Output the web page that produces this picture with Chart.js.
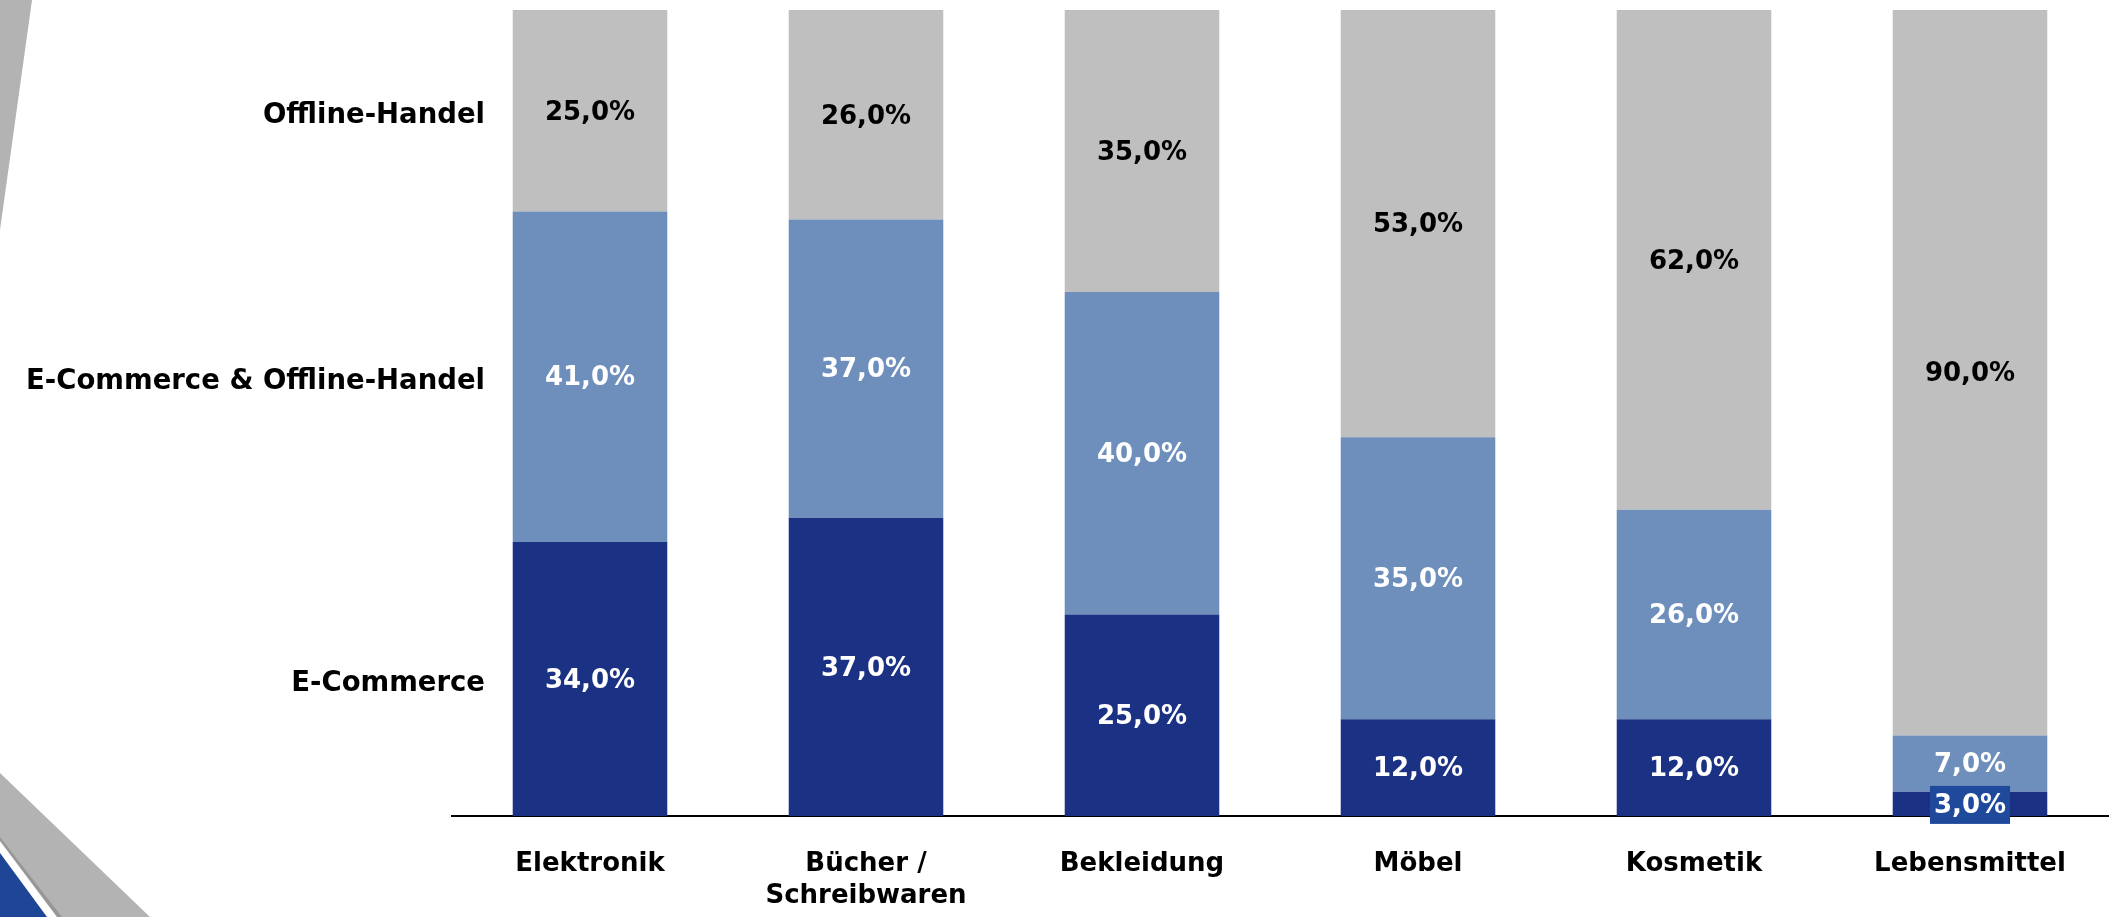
<!DOCTYPE html>
<html>
<head>
<meta charset="utf-8">
<script src="https://cdn.jsdelivr.net/npm/chart.js@4/dist/chart.umd.min.js"></script>
<style>
  html, body { margin: 0; padding: 0; background: #fff; overflow: hidden; }
  canvas { display: block; }
</style>
</head>
<body>
<canvas id="c" width="2116" height="917"></canvas>
<script>
// Kaufkanal je Warengruppe (Anteile in %)
const categories = ['Elektronik', ['Bücher /', 'Schreibwaren'], 'Bekleidung', 'Möbel', 'Kosmetik', 'Lebensmittel'];
const seriesNames = ['E-Commerce', 'E-Commerce & Offline-Handel', 'Offline-Handel'];
const eCommerce = [34, 37, 25, 12, 12, 3];
const beides    = [41, 37, 40, 35, 26, 7];
const offline   = [25, 26, 35, 53, 62, 90];

const FONT = 'DejaVu Sans';
const NAVY = '#1b3183';
const MID = '#6e8fbb';
const GREY = '#bfbfbf';

function fmt(v) {
  return v.toFixed(1).replace('.', ',') + '%';
}

// Eckdekoration der Folie
const decoration = {
  id: 'decoration',
  beforeDraw(chart) {
    const ctx = chart.ctx;
    const H = chart.height;
    ctx.save();
    ctx.fillStyle = '#b3b3b3';
    ctx.beginPath();
    ctx.moveTo(0, 0); ctx.lineTo(32, 0); ctx.lineTo(0, 230); ctx.closePath();
    ctx.fill();
    ctx.beginPath();
    ctx.moveTo(0, 773); ctx.lineTo(150, H); ctx.lineTo(0, H); ctx.closePath();
    ctx.fill();
    ctx.fillStyle = '#979797';
    ctx.beginPath();
    ctx.moveTo(0, 837); ctx.lineTo(62, H); ctx.lineTo(0, H); ctx.closePath();
    ctx.fill();
    ctx.fillStyle = '#ffffff';
    ctx.beginPath();
    ctx.moveTo(0, 841); ctx.lineTo(57, H); ctx.lineTo(0, H); ctx.closePath();
    ctx.fill();
    ctx.fillStyle = '#1f4597';
    ctx.beginPath();
    ctx.moveTo(0, 853); ctx.lineTo(47, H); ctx.lineTo(0, H); ctx.closePath();
    ctx.fill();
    ctx.restore();
  }
};

// Werte mittig in den Segmenten
const valueLabels = {
  id: 'valueLabels',
  afterDatasetsDraw(chart) {
    const ctx = chart.ctx;
    ctx.save();
    ctx.font = 'bold 26px "' + FONT + '"';
    ctx.textAlign = 'center';
    ctx.textBaseline = 'middle';
    chart.data.datasets.forEach((ds, i) => {
      const meta = chart.getDatasetMeta(i);
      meta.data.forEach((bar, j) => {
        const v = ds.data[j];
        const y = (bar.y + bar.base) / 2;
        const txt = fmt(v);
        if (v < 5) {
          const w = ctx.measureText(txt).width + 8;
          ctx.fillStyle = '#1f4a9c';
          ctx.fillRect(bar.x - w / 2, y - 18, w, 38);
        }
        ctx.fillStyle = i === 2 ? '#000000' : '#ffffff';
        ctx.fillText(txt, bar.x, y + 2);
      });
    });
    ctx.restore();
  }
};

// Reihennamen links, auf Höhe der Segmente der ersten Säule
const seriesLabels = {
  id: 'seriesLabels',
  afterDatasetsDraw(chart) {
    const ctx = chart.ctx;
    ctx.save();
    ctx.font = 'bold 27.5px "' + FONT + '"';
    ctx.textAlign = 'right';
    ctx.textBaseline = 'middle';
    ctx.fillStyle = '#000000';
    chart.data.datasets.forEach((ds, i) => {
      const bar = chart.getDatasetMeta(i).data[0];
      const y = (bar.y + bar.base) / 2;
      ctx.fillText(ds.label, chart.chartArea.left + 33, y + 5);
    });
    ctx.restore();
  }
};

new Chart(document.getElementById('c'), {
  type: 'bar',
  data: {
    labels: categories,
    datasets: [
      { label: seriesNames[0], data: eCommerce, backgroundColor: NAVY },
      { label: seriesNames[1], data: beides, backgroundColor: MID },
      { label: seriesNames[2], data: offline, backgroundColor: GREY }
    ]
  },
  options: {
    responsive: false,
    devicePixelRatio: 1,
    animation: false,
    barPercentage: 0.56,
    categoryPercentage: 1.0,
    layout: { padding: { left: 452, right: 8, top: 10, bottom: 0 } },
    plugins: {
      legend: { display: false },
      tooltip: { enabled: false }
    },
    scales: {
      x: {
        stacked: true,
        grid: { display: false, drawTicks: false },
        border: { display: true, color: '#000000', width: 2 },
        ticks: {
          color: '#000000',
          padding: 33,
          maxRotation: 0,
          autoSkip: false,
          font: { family: FONT, size: 26, weight: 'bold', lineHeight: 1.2 }
        },
        afterFit(scale) { scale.height = 101; }
      },
      y: {
        stacked: true,
        display: false,
        min: 0,
        max: 100
      }
    }
  },
  plugins: [decoration, valueLabels, seriesLabels]
});
</script>
</body>
</html>
